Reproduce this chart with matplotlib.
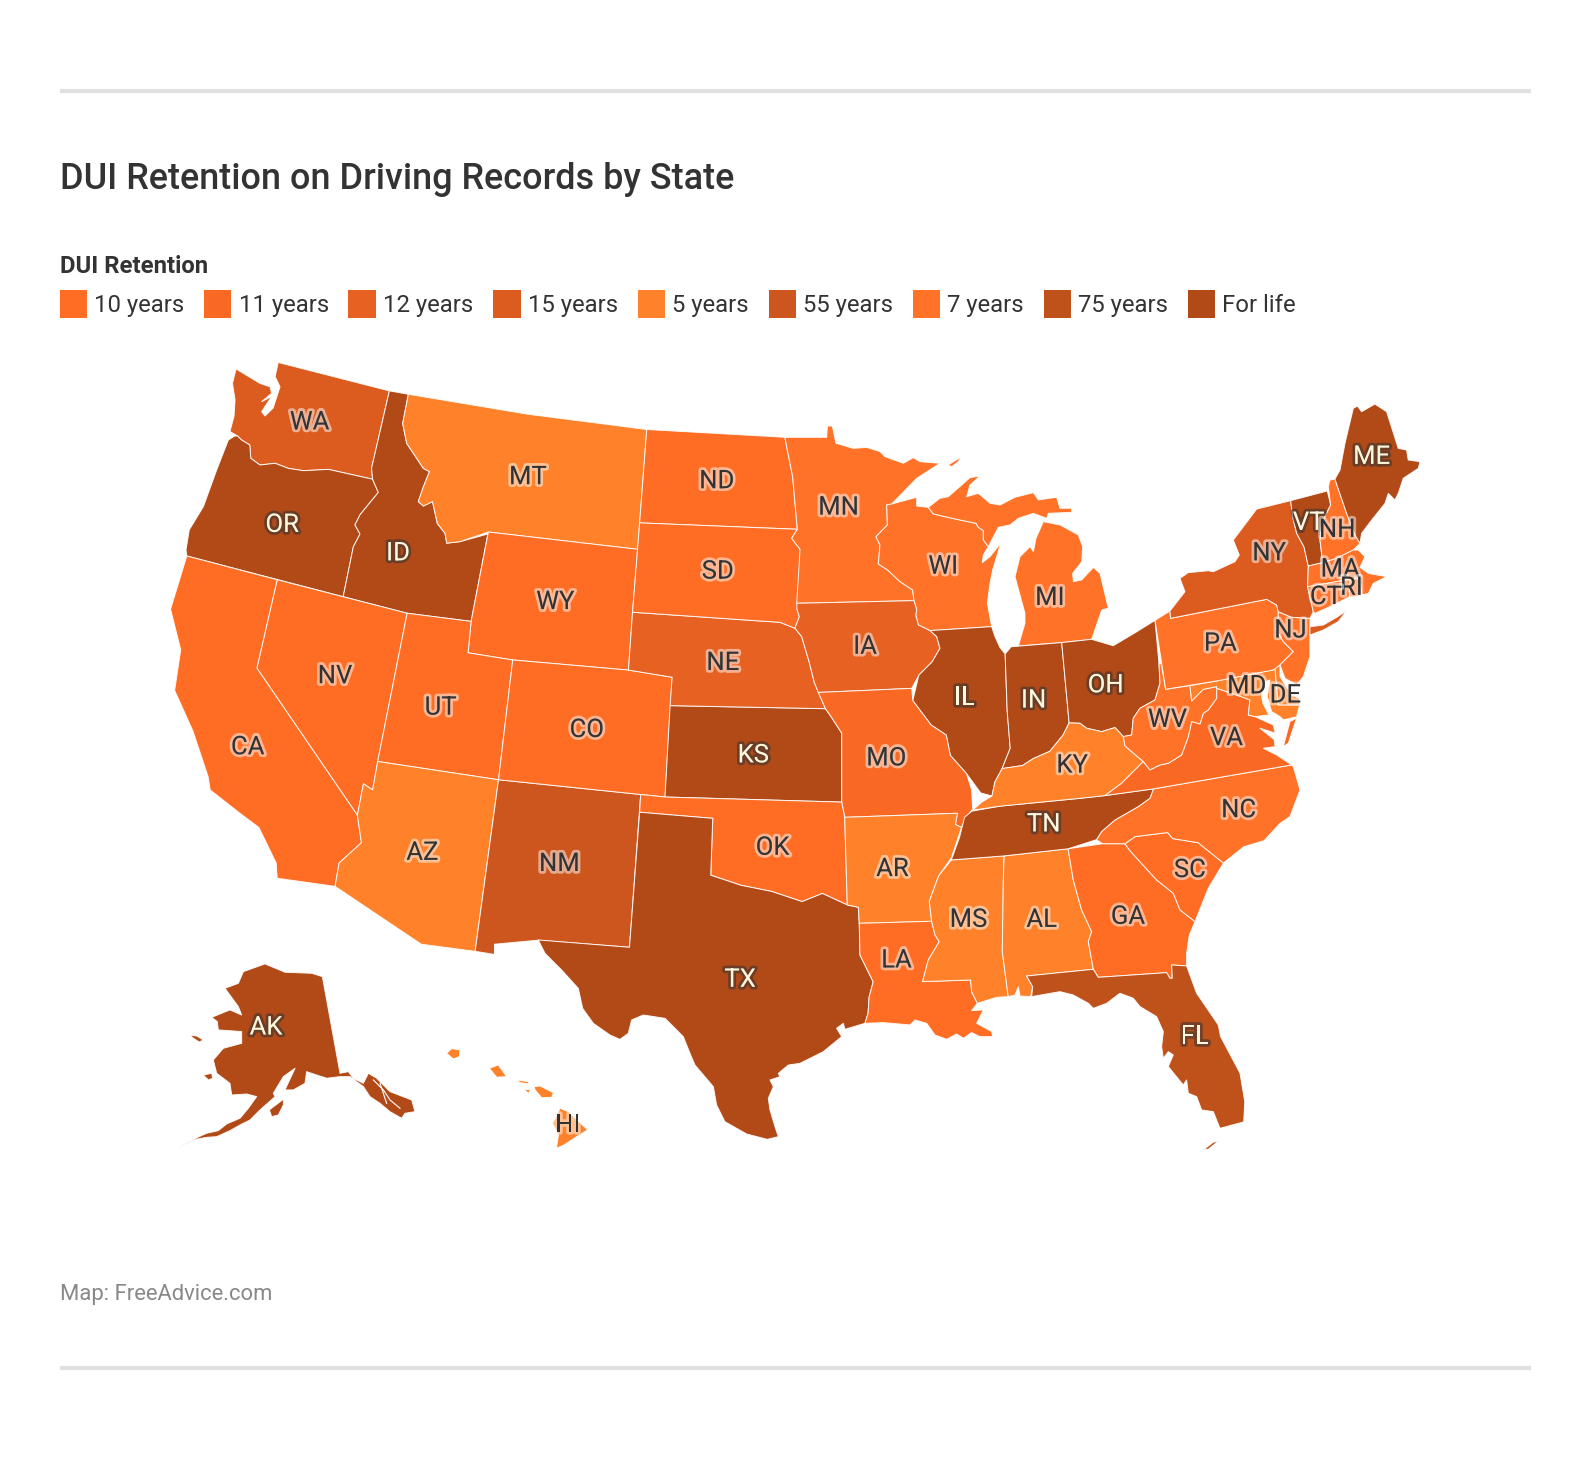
import matplotlib
matplotlib.use("Agg")
import matplotlib.pyplot as plt
import matplotlib.patheffects as pe

plt.rcParams['font.family'] = ['Roboto', 'DejaVu Sans']

TITLE = "DUI Retention on Driving Records by State"
LEGEND_TITLE = "DUI Retention"
SOURCE = "Map: FreeAdvice.com"
CATEGORIES = ["10 years", "11 years", "12 years", "15 years", "5 years", "55 years", "7 years", "75 years", "For life"]
COLORS = ["#ff6d25", "#f96924", "#e66122", "#dc5c20", "#ff8129", "#cc561e", "#ff7228", "#bf521b", "#b24a18"]

RETENTION = {
    "10 years": ["CA", "NV", "UT", "WY", "CO", "ND", "SD", "OK", "LA", "GA", "SC"],
    "11 years": ["VA", "MO"],
    "12 years": ["NE", "IA"],
    "15 years": ["WA", "NY"],
    "5 years": ["MT", "AZ", "KY", "AR", "MS", "AL", "HI", "MD", "DE"],
    "55 years": ["NM"],
    "7 years": ["MN", "WI", "MI", "NC", "PA", "NJ", "NH", "MA", "CT", "RI", "WV"],
    "75 years": ["FL"],
    "For life": ["OR", "ID", "IL", "IN", "OH", "KS", "TN", "TX", "AK", "ME", "VT"],
}

LABEL_AT = {
    "WA": (305, 414), "OR": (278, 515), "CA": (244, 734), "NV": (330, 664), "ID": (392, 543), "MT": (520, 468),
    "WY": (547, 591), "UT": (434, 695), "AZ": (416, 838), "CO": (578, 717), "NM": (551, 849), "ND": (706, 472),
    "SD": (707, 561), "NE": (712, 651), "KS": (742, 742), "OK": (761, 833), "TX": (729, 963), "MN": (826, 498),
    "IA": (852, 635), "MO": (873, 745), "AR": (879, 854), "LA": (883, 944), "WI": (929, 556), "IL": (950, 685),
    "MI": (1034, 587), "IN": (1018, 688), "OH": (1089, 673), "KY": (1056, 752), "TN": (1028, 810), "MS": (954, 904),
    "AL": (1026, 904), "GA": (1111, 901), "FL": (1177, 1019), "SC": (1172, 855), "NC": (1220, 796), "VA": (1208, 725),
    "WV": (1150, 707), "PA": (1202, 632), "NY": (1250, 543), "ME": (1351, 448), "VT": (1289, 513), "NH": (1317, 520),
    "MA": (1320, 559), "RI": (1331, 577), "CT": (1306, 586), "NJ": (1271, 619), "DE": (1266, 683), "MD": (1228, 674),
    "AK": (262, 1010), "HI": (559, 1106),
}

# State outlines in the map's own projected units (one list per land mass)
OUTLINES = {
 "WA": [[(274,357),(383.5,385),(366,461),(367,472),(323.4,462.3),(299,463.6),(284,461.3),(271,456.3),(256,458),(247,451.4),(246,438.3),(238,433.4),(234,429.4),(226.5,425),(230.5,410),(231.5,394),(229,377.6),(232.5,363.4),(256,377.6),(266,381),(267.5,387.4),(257.7,395.6),(267.5,390.6),(257.7,405.4),(261,409.7),(269,402),(275.8,381),(271,371)]],
 "OR": [[(224.9,433.4),(231,429.5),(234,429.4),(238,433.4),(246,438.3),(247,451.4),(256,458),(271,456.3),(284,461.3),(299,463.6),(323.4,462.3),(367,472),(372.6,485),(354.6,507),(349.6,517),(354.6,526),(348,538.5),(338,587.7),(184,547.6),(183.2,541.7),(186.4,521.9),(200.3,499),(213.4,463)]],
 "ID": [[(383.5,385),(402.2,388.3),(396.6,417),(400.6,436.7),(417,461.3),(423,464.5),(417,479.4),(412,494),(417,498.4),(426,494),(430.7,515.5),(438.3,525.3),(440,535),(453,533.5),(480.5,526),(464,612),(401,604),(338,587.7),(348,538.5),(354.6,526),(349.6,517),(354.6,507),(372.6,485),(367,472),(366,461)]],
 "MT": [[(402.2,388.3),(520,408),(637,423),(630,515),(628,541),(481,524),(453,533.5),(440,535),(438.3,525.3),(430.7,515.5),(426,494),(417,498.4),(412,494),(417,479.4),(423,464.5),(417,461.3),(400.6,436.7),(396.6,417)]],
 "WY": [[(481,524),(628,541),(623,603),(619,660),(505,650),(461,643),(464,612)]],
 "NV": [[(273,571),(401,604),(372,750),(367,778),(358,772),(352,803),(253,658)]],
 "UT": [[(401,604),(464,612),(461,643),(505,650),(491,768),(372,750)]],
 "CA": [[(184,547.6),(273,571),(253,658),(352,803),(356,830),(334,850),(330,873),(273,865),(272,850),(255,815),(235,800),(207,778),(205,765),(190,720),(172,680),(178,640),(168,600)]],
 "AZ": [[(372,750),(491,768),(468,937),(415,930),(330,873),(334,850),(356,830),(352,803),(358,772),(367,778)]],
 "NM": [[(491,768),(631,782.5),(620,933),(530,926),(487,930),(487,940),(468,937)]],
 "CO": [[(505,650),(619,660),(662,667),(655,785),(491,768)]],
 "KS": [[(660,695),(813,698),(818,705),(829,722),(829,790),(655,785)]],
 "NE": [[(623,603),(758.4,612.3),(768.2,612.9),(783,618.8),(789.6,627),(793,638.5),(797,652),(802,672),(813,698),(660,695),(662,667),(619,660)]],
 "ND": [[(637,423),(773,430.7),(780.7,469.5),(785.3,521.3),(630,515)]],
 "SD": [[(630,515),(785.3,521.3),(779.7,530.2),(788,541),(788,594),(785,600),(787.3,607.4),(783,618.8),(768.2,612.9),(758.4,612.3),(623,603)]],
 "MN": [[(773,430.7),(814.2,430.7),(814.9,419.6),(819.8,419.6),(823.4,436.6),(840.5,441.6),(853.6,440.6),(866.7,444.8),(871.7,449.8),(889.7,456.3),(899.6,450.7),(906.1,454.7),(925.8,456.3),(902.9,471.1),(878.2,496.4),(873.3,497.4),(874,517),(862.8,528.6),(866.7,536.8),(865.1,555.5),(875,562),(886.4,572.9),(898.9,581.1),(900.2,591.6),(784.7,594.2),(788,541),(779.7,530.2),(785.3,521.3),(780.7,469.5)]],
 "WI": [[(873.3,497.4),(878.2,496.4),(902.9,489.8),(902.9,498.4),(914.3,499.7),(919.3,506.2),(942.2,511.5),(961.3,515.4),(963.6,519.4),(968.5,522.6),(968.5,531.8),(973.4,538.4),(968.5,546.6),(967.5,554.2),(975.1,548.3),(985.6,535.1),(977.7,561.4),(975.1,574.5),(972.5,594.2),(976.7,617.2),(916,621.1),(904.5,615.6),(901.9,605.7),(902.9,600.8),(900.2,591.6),(898.9,581.1),(886.4,572.9),(875,562),(865.1,555.5),(866.7,536.8),(862.8,528.6),(874,517)]],
 "MI": [[(914.3,499.7),(925.8,490.8),(934,489.2),(947.2,477.7),(955.4,470.4),(965.2,468.8),(955.4,477.7),(952.1,489.2),(963.6,485.9),(975.1,495.7),(984.9,497.4),(999.7,489.8),(1017.8,485.2),(1022.7,492.4),(1040.7,489.8),(1044,500.6),(1055.5,500.6),(1055.5,504.6),(1032.5,505.6),(1030.9,510.5),(1017.8,505.6),(1003,510.5),(994.8,517),(983.3,519.4),(973.4,538.4),(968.5,531.8),(968.5,522.6),(963.6,519.4),(961.3,515.4),(942.2,511.5),(919.3,506.2)],
        [(933.7,458),(946.2,450.4),(943.9,454.7),(937.3,459.6)],
        [(1027.6,513.8),(1044,517),(1062.1,526.9),(1066.3,538.4),(1065.4,553.2),(1056.5,564.7),(1057.2,572.9),(1065.4,571.2),(1076.9,558.8),(1083.4,564.7),(1091.6,599.1),(1085.1,600.8),(1075.2,629.7),(1045.7,632.9),(1003,636.2),(1009.5,613.9),(1009.5,604),(999.7,568),(1004.6,548.3),(1014.5,538.4),(1017.8,543.3),(1020.4,530.2)]],
 "IA": [[(784.7,594.2),(900.2,591.6),(902.9,600.8),(901.9,605.7),(904.5,615.6),(916,621.1),(922.6,627),(925.8,638.5),(918,652),(905,665),(898,678),(806,682),(802,672),(797,652),(793,638.5),(789.6,627),(783,618.8),(787.3,607.4),(785,600)]],
 "IL": [[(916,621.1),(976.7,617.2),(980,627),(985,638),(990,644),(992,700),(995,737),(987,757),(980,770),(977,784),(966,781),(952,762),(936,744),(932,724),(917,714),(899,690),(905,665),(918,652),(925.8,638.5),(922.6,627)]],
 "IN": [[(990,644),(996,637),(1045.7,632.9),(1053,712),(1047,724),(1034,740),(1018,747),(1007,754),(987,757),(995,737),(992,700)]],
 "OH": [[(1045.7,632.9),(1075.2,629.7),(1096.5,636),(1120,622),(1137.6,611),(1141.5,653.3),(1142.5,673),(1137.6,689.4),(1122.8,697.6),(1116.2,707.4),(1114.6,723.9),(1106.4,725.5),(1098.2,716.6),(1085,720.6),(1070.3,717.3),(1063.7,712.4),(1053,712)]],
 "MO": [[(806,682),(898,678),(899,690),(917,714),(932,724),(936,744),(952,762),(957,778),(958,797),(951,806),(947,815),(941,812),(943,801),(832,805),(829,790),(829,722),(818,705),(813,698)]],
 "OK": [[(631,782.5),(655,785),(829,790),(832,805),(834.5,891.3),(810,880),(790,888),(760,878),(730,872),(700,862),(702,806),(630,800)]],
 "TX": [[(630,800),(702,806),(700,862),(730,872),(760,878),(790,888),(810,880),(834.5,891.3),(845.4,893.6),(846.3,909.4),(847,940.6),(860,967),(856,982),(855,998),(851.9,1007.9),(832.2,1013.8),(830.6,1007.9),(824,1012.8),(829,1021),(810.9,1035.8),(787.9,1047.3),(776.4,1049),(766.6,1057.2),(768.2,1060.5),(758.4,1063.7),(761.7,1070.3),(756.7,1081.8),(758.4,1093.3),(763.3,1109.7),(766.6,1119.5),(755.7,1122.2),(735.4,1116.9),(714,1104.8),(705.8,1088.4),(702.6,1070.3),(684.5,1049),(679.6,1037.5),(673,1021),(655,1003),(633.6,999.7),(622.1,1004.6),(618.8,1017.8),(610.6,1023.7),(600.8,1019.4),(584.4,1007.9),(573.9,993.2),(569.6,973.5),(553.2,955.4),(536.8,939),(530.2,925.8),(620,933)]],
 "AR": [[(832,805),(943,801),(941,812),(947,815),(937,845),(925,862),(922.5,868),(915.3,888),(917.6,907.4),(846.3,909.4),(845.4,893.6),(834.5,891.3)]],
 "LA": [[(846.3,909.4),(917.6,907.4),(920.9,920.9),(925.1,927.4),(914.3,945.5),(908.7,966.8),(956,965.2),(957,976.7),(962.6,988.2),(957,995.4),(968.5,994.7),(961.9,1007.9),(976.7,1016),(977.7,1021),(965.2,1021),(957,1017),(948.8,1022.6),(942.2,1018.4),(932.4,1023.6),(920.9,1019.4),(912.7,1007.9),(901.2,1004.6),(896.2,1009.5),(870,1007.2),(851.9,1007.9),(855,998),(856,982),(860,967),(847,940.6)]],
 "MS": [[(937,847),(989,843),(988.2,866.7),(987.2,937.3),(993,981.6),(981.6,982.3),(962.6,988.2),(957,976.7),(956,965.2),(908.7,966.8),(914.3,945.5),(925.1,927.4),(920.9,920.9),(917.6,907.4),(915.3,888),(922.5,868),(925,862)]],
 "AL": [[(989,843),(1052,836),(1057.1,866.7),(1065.3,896.2),(1075.2,917.6),(1071.9,927.4),(1075.2,945.5),(1076.8,954.7),(1011.1,961.3),(1017.1,971.8),(1015.1,981.6),(1004.6,981),(1003,971.8),(999.7,980),(993,981.6),(987.2,937.3),(988.2,866.7)]],
 "GA": [[(1052,836),(1086,831),(1108,831),(1113,838),(1139.2,866.7),(1155.6,879.8),(1162.2,896.2),(1177,907.7),(1171.4,920.9),(1168.7,939),(1168.7,951.4),(1154,950.4),(1154.6,963.5),(1152.3,963.5),(1149,958),(1081.7,962.6),(1076.8,954.7),(1075.2,945.5),(1071.9,927.4),(1075.2,917.6),(1065.3,896.2),(1057.1,866.7)]],
 "FL": [[(1011.1,961.3),(1076.8,954.7),(1081.7,962.6),(1149,958),(1152.3,963.5),(1154.6,963.5),(1154,950.4),(1168.7,951.4),(1178.6,978.3),(1199.9,1009.5),(1202.2,1021),(1221.3,1057),(1226,1085),(1225,1105),(1201.6,1111.3),(1195,1094.9),(1183.5,1093.2),(1178.6,1080.1),(1170.4,1076.8),(1168.7,1063.7),(1165.4,1068.6),(1150.7,1050.5),(1155.6,1039),(1150.7,1035.8),(1145.8,1042.3),(1144.1,1030.9),(1145.8,1016.1),(1139.2,1001.3),(1122.8,991.4),(1116.2,983.2),(1103,978.3),(1090,988.2),(1076.8,993.1),(1072,988.2),(1057.1,980),(1044,976.7),(1016.1,981.6),(1017.1,971.8)],
        [(1186,1132),(1195,1125),(1200,1124),(1190,1132)]],
 "SC": [[(1108,831),(1118,824),(1150,820),(1155,826),(1180,830),(1205,850),(1190,875),(1177,907.7),(1162.2,896.2),(1155.6,879.8),(1139.2,866.7),(1113,838)]],
 "NC": [[(1136,777),(1272.2,753.4),(1273.8,755),(1280.4,778),(1270.5,804.3),(1260.7,811),(1245,828),(1225,834),(1205,850),(1180,830),(1155,826),(1150,820),(1118,824),(1108,831),(1086,831),(1080,827),(1085,819),(1098.2,807.6),(1109.7,801),(1121.2,794.4),(1132.6,786.2)]],
 "TN": [[(957,799),(985,794),(1063.7,786.3),(1088.3,783.6),(1136,777),(1132.6,786.2),(1121.2,794.4),(1109.7,801),(1098.2,807.6),(1085,819),(1080,827),(1052,836),(989,843),(937,847),(945,825),(950,805)]],
 "KY": [[(958,798),(967,790),(977,784),(980,770),(987,757),(1007,754),(1018,747),(1034,740),(1047,724),(1053,712),(1063.7,712.4),(1070.3,717.3),(1085,720.6),(1098.2,716.6),(1106.4,725.5),(1108,734.7),(1126.1,750.1),(1116.2,760),(1104.7,771.5),(1088.3,783.6),(1063.7,786.3),(985,794)]],
 "VA": [[(1126.1,750.1),(1132.6,758.3),(1142.5,753.4),(1150.7,751.8),(1163.8,743.6),(1170.4,725.5),(1173.7,710.7),(1181.9,713),(1185.2,702.5),(1190.1,699.2),(1198.3,687.8),(1198.3,677.9),(1218,684.5),(1231.1,689.4),(1229.5,704.2),(1236,705.8),(1254,714),(1256,722),(1241,717.3),(1255,728.5),(1255.8,735.4),(1244.3,737),(1257.4,743.6),(1272.2,753.4),(1136,777),(1088.3,783.6),(1104.7,771.5),(1116.2,760)],
        [(1277,707.4),(1270.5,710.7),(1264,735.4),(1268.9,732)]],
 "WV": [[(1141.5,653.3),(1143.5,653.3),(1148.1,678.9),(1172,675.3),(1173.7,690.4),(1185.2,678.9),(1190.1,677.9),(1198.3,676.3),(1198.3,687.8),(1190.1,699.2),(1185.2,702.5),(1181.9,713),(1173.7,710.7),(1170.4,725.5),(1163.8,743.6),(1150.7,751.8),(1142.5,753.4),(1132.6,758.3),(1126.1,750.1),(1108,734.7),(1106.4,725.5),(1114.6,723.9),(1116.2,707.4),(1122.8,697.6),(1137.6,689.4),(1142.5,673)]],
 "MD": [[(1172,675.3),(1200,670.4),(1254.1,659.8),(1255.8,658.2),(1259,694.3),(1280,694.3),(1277,706),(1264,709),(1260.7,705.8),(1252.5,700.9),(1248.2,686),(1250.8,669.7),(1244,672),(1242.6,686),(1244,693),(1250,704.2),(1236,705.8),(1229.5,704.2),(1231.1,689.4),(1218,684.5),(1198.3,677.9),(1198.3,676.3),(1190.1,677.9),(1185.2,678.9),(1173.7,690.4)]],
 "DE": [[(1255.8,658.2),(1260.7,654.9),(1260.7,666.4),(1272.2,684.5),(1280,688),(1280,694.3),(1259,694.3)]],
 "PA": [[(1137.6,611),(1152.3,601.8),(1153,609),(1247.6,590.3),(1257.4,595.9),(1259,602.5),(1259,610),(1257,620),(1264,632),(1273.8,641.8),(1260.7,654.9),(1254.1,659.8),(1200,670.4),(1148.1,678.9)]],
 "NJ": [[(1259,602.5),(1272.2,608),(1290.2,609),(1290.2,627.1),(1290.2,646.7),(1283.7,666.4),(1277.1,674.6),(1265.6,668),(1260.7,654.9),(1273.8,641.8),(1264,632),(1257,620),(1259,610)]],
 "NY": [[(1271.2,493.1),(1273.2,508.9),(1277.1,525.3),(1284.3,538.5),(1288.6,557.5),(1287.9,577.9),(1293.5,602.5),(1290.2,609),(1272.2,608),(1259,602.5),(1257.4,595.9),(1247.6,590.3),(1153,609),(1152.3,601.8),(1167.1,582.8),(1162.2,569.6),(1170.4,564),(1190.1,562.1),(1195,563.1),(1216.4,553.2),(1220.6,546.7),(1214.7,531.9),(1224.6,518.8),(1237.7,501.4)],
        [(1290.2,617.3),(1303.4,615.6),(1316.5,608),(1326.3,601.5),(1318.1,612.3),(1303.4,620.5),(1290.2,625.5)]],
 "VT": [[(1271.2,493.1),(1307.3,483.6),(1310.6,497.4),(1301.7,515.5),(1300.1,531.9),(1302.7,554.2),(1288.6,557.5),(1284.3,538.5),(1277.1,525.3),(1273.2,508.9)]],
 "NH": [[(1308.3,479.4),(1309.9,472.8),(1314.8,471.8),(1326.3,505.6),(1334.6,527),(1339.5,535.2),(1332.9,541.7),(1316.5,550),(1302.7,554.2),(1300.1,531.9),(1301.7,515.5),(1310.6,497.4)]],
 "ME": [[(1314.8,471.8),(1319.8,463),(1324.7,436.7),(1332.9,402.2),(1336.9,399.9),(1341.1,405.5),(1354.2,398),(1365.7,405.5),(1377.2,441.6),(1385.4,443.2),(1387,453.1),(1398.6,454.7),(1396.9,461.3),(1382.1,471.1),(1377.2,485.9),(1373.9,492.5),(1367.4,485.9),(1364.1,495.8),(1351,512.2),(1341.1,525.3),(1339.5,535.2),(1334.6,527),(1326.3,505.6)]],
 "MA": [[(1288.6,557.5),(1302.7,554.2),(1316.5,550),(1332.9,541.7),(1337.8,541.7),(1344.4,548.3),(1339.5,558.8),(1347.7,564.7),(1365.7,568),(1352.6,574.6),(1347.7,584.4),(1341.1,586),(1339.5,569.6),(1329.6,570.6),(1287.9,577.9)]],
 "CT": [[(1287.9,577.9),(1329.6,570.6),(1329,587.7),(1313.2,595.9),(1295.2,604.1),(1293.5,602.5)]],
 "RI": [[(1329.6,570.6),(1339.5,569.6),(1341.1,586),(1333,588),(1329,587.7)]],
 "AK": [[(317.5,961.9),(334.9,1057.1),(343.1,1055.5),(348,1062),(357.9,1067),(362.8,1057.1),(371,1062),(384.1,1075.2),(405.5,1083.4),(408.7,1094.9),(398.9,1096.5),(395.6,1101.4),(384.1,1094.9),(374.3,1086.7),(364.4,1080.1),(357.9,1070.2),(344.7,1060.4),(334.9,1060.4),(321.8,1062),(311.9,1058.8),(302,1055.5),(300.4,1067),(288.9,1073.5),(280.7,1073.5),(290.6,1052.2),(279.1,1060.4),(269.2,1076.8),(270.9,1080.1),(256.1,1093.2),(246.2,1103.1),(236.4,1108),(226.5,1113.6),(213.4,1119.5),(203.6,1120.2),(193.7,1122),(176,1130),(195,1120),(203.6,1116.2),(215,1113.6),(223.3,1107),(236.4,1101.4),(244.6,1091.6),(252.8,1080.1),(243,1077.5),(228.2,1078.5),(226.5,1067),(213.4,1057.1),(210.1,1044),(220,1032.5),(238,1027.6),(238,1016),(215,1014.4),(214,1006.2),(208.5,1002),(226.5,994.7),(238,999.7),(234.8,991.5),(221.6,973.4),(234.8,968.5),(239.7,957),(261,949.4),(280.7,957.6),(307,958.6)],
        [(187.1,1019.4),(193.7,1020.4),(200.3,1024.3),(196.3,1026.3),(190.4,1022.6)],
        [(200.3,1058.8),(208.5,1057.1),(209.5,1062),(205.2,1063.7)],
        [(265.3,1093.2),(279.1,1082.7),(279.1,1088.3),(274.1,1098.2),(267.6,1099.8)]],
 "HI": [[(439.9,1037.4),(444.9,1032.8),(453.1,1034.1),(452.4,1040.7),(446.5,1043)],
        [(482,1052.2),(490.8,1048.9),(499,1060.4),(489.2,1061)],
        [(508.9,1063.7),(520.4,1065.3),(520.4,1067.6),(512.2,1066.3)],
        [(516.1,1072.6),(522.7,1073.5),(520.4,1076.8)],
        [(526,1070.3),(531.9,1069.6),(545,1076.2),(543.4,1080.8),(533.5,1081.1),(527,1073.5)],
        [(551.6,1091.6),(559.8,1094.9),(578.8,1112.9),(568,1119.5),(555,1128),(548,1131),(550,1118),(544.4,1106.4)]],
}

# Inside passages of the Alaska panhandle
AK_CHANNELS = [
    [(367.7,1063.7),(377.6,1073.5),(384.1,1083.4),(394,1091.6)],
    [(374.3,1067),(380.8,1086.7)],
]

CREAM_LABELS = ("75 years", "For life")

fig = plt.figure(figsize=(15.92, 14.6), dpi=100, facecolor="white")
ax = fig.add_axes([0, 0, 1, 1])
ax.set_xlim(0, 1568)
ax.set_ylim(1438, 0)
ax.axis("off")

for y in (90, 1347):
    ax.plot([59, 1508], [y, y], color="#e0e0e0", lw=3, solid_capstyle="butt")

ax.text(59, 177, TITLE, fontsize=25.9, fontweight="medium", color="#333333", va="center", ha="left")
ax.text(59, 262, LEGEND_TITLE, fontsize=17.2, fontweight="bold", color="#333333", va="center", ha="left")
ax.text(59, 1275, SOURCE, fontsize=15.8, color="#888888", va="center", ha="left")

swatch_x = [59, 201, 343, 486, 628, 757, 899, 1028, 1170]
for sx, cat, col in zip(swatch_x, CATEGORIES, COLORS):
    ax.fill([sx, sx + 27, sx + 27, sx], [286, 286, 313, 313], color=col, lw=0)
    ax.text(sx + 34, 301, cat, fontsize=17.2, color="#333333", va="center", ha="left")

colour_of = {}
for cat, col in zip(CATEGORIES, COLORS):
    for st in RETENTION[cat]:
        colour_of[st] = (col, cat)

for st, parts in OUTLINES.items():
    col, _ = colour_of[st]
    for part in parts:
        xs, ys = zip(*part)
        ax.fill(xs, ys, facecolor=col, edgecolor=(1, 1, 1, 0.9), lw=0.7, joinstyle="round", zorder=2)

for line in AK_CHANNELS:
    xs, ys = zip(*line)
    ax.plot(xs, ys, color="white", lw=0.8, zorder=3)

for st, (lx, ly) in LABEL_AT.items():
    _, cat = colour_of[st]
    if cat in CREAM_LABELS:
        tc, halo = "#fff8dc", (0.2, 0.2, 0.2, 0.55)
    else:
        tc, halo = "#333333", (1, 1, 1, 0.5)
    ax.text(lx, ly + 2, st, fontsize=18.5, color=tc, ha="center", va="center", zorder=5,
            path_effects=[pe.withStroke(linewidth=4, foreground=halo)])

fig.savefig("out.png", dpi=100, facecolor="white")
